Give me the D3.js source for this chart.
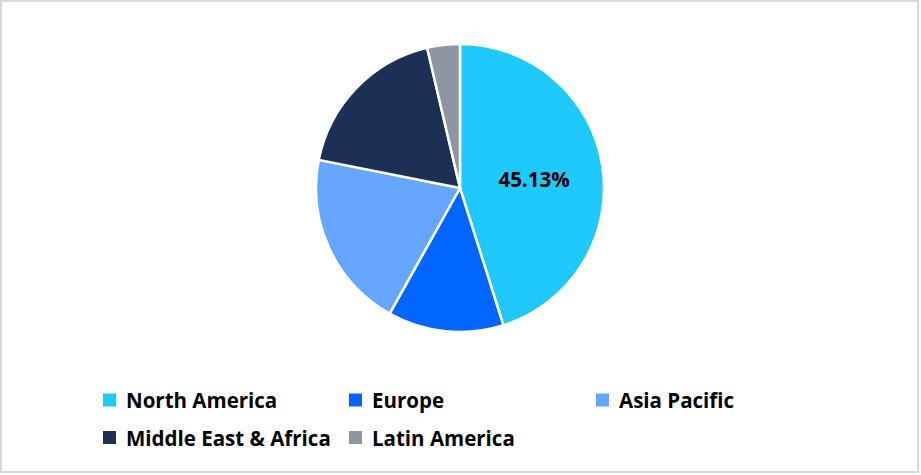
<!DOCTYPE html>
<html>
<head>
<meta charset="utf-8">
<script src="https://cdn.jsdelivr.net/npm/d3@7"></script>
<style>
html,body{margin:0;padding:0;background:#fff;}
svg{display:block;}
text{font-family:"Open Sans","Noto Sans",sans-serif;font-weight:700;fill:#000;}
</style>
</head>
<body>
<svg id="chart" width="921" height="475"></svg>
<script>
const categories = ["North America","Europe","Asia Pacific","Middle East & Africa","Latin America"];
const shares = [45.13, 13.0, 20.0, 18.2, 3.67];
const colors = ["#1FC9FC","#0066FF","#66A6FF","#1C3055","#8F96A3"];
const shownLabels = ["45.13%","","","",""];

const svg = d3.select("#chart");

svg.append("rect").attr("x",1).attr("y",1).attr("width",917).attr("height",471)
  .attr("fill","#fff").attr("stroke","#D9D9D9").attr("stroke-width",2);

const cx = 460, cy = 188, r = 144;
const data = categories.map((c,i)=>({cat:c, value:shares[i], color:colors[i], label:shownLabels[i]}));
const pie = d3.pie().value(d=>d.value).sort(null);
const arc = d3.arc().innerRadius(0).outerRadius(r);
const labelArc = d3.arc().innerRadius(r*0.52).outerRadius(r*0.52);
const g = svg.append("g").attr("transform",`translate(${cx},${cy})`);
const arcs = pie(data);
g.selectAll("path").data(arcs).join("path")
  .attr("d",arc).attr("fill",d=>d.data.color)
  .attr("stroke","#fff").attr("stroke-width",2.5).attr("stroke-linejoin","round");
g.selectAll("text.lbl").data(arcs.filter(d=>d.data.label)).join("text")
  .attr("class","lbl")
  .attr("transform",d=>{const c=labelArc.centroid(d);return `translate(${c[0]},${c[1]+2})`;})
  .attr("text-anchor","middle").attr("dominant-baseline","central")
  .style("font-size","20.5px").text(d=>d.data.label);

// legend
const colX = d3.scaleOrdinal().domain([0,1,2]).range([103,349,596]);
const rowY = d3.scaleOrdinal().domain([0,1]).range([400,437.5]);
const leg = svg.append("g");
data.forEach((d,i)=>{
  const col = i % 3, row = Math.floor(i/3);
  const x = colX(col), y = rowY(row);
  leg.append("rect").attr("x",x).attr("y",y-6.5).attr("width",13).attr("height",13).attr("fill",d.color);
  leg.append("text").attr("x",x+23).attr("y",y).attr("dominant-baseline","central")
    .style("font-size","20.5px").text(d.cat);
});
</script>
</body>
</html>
